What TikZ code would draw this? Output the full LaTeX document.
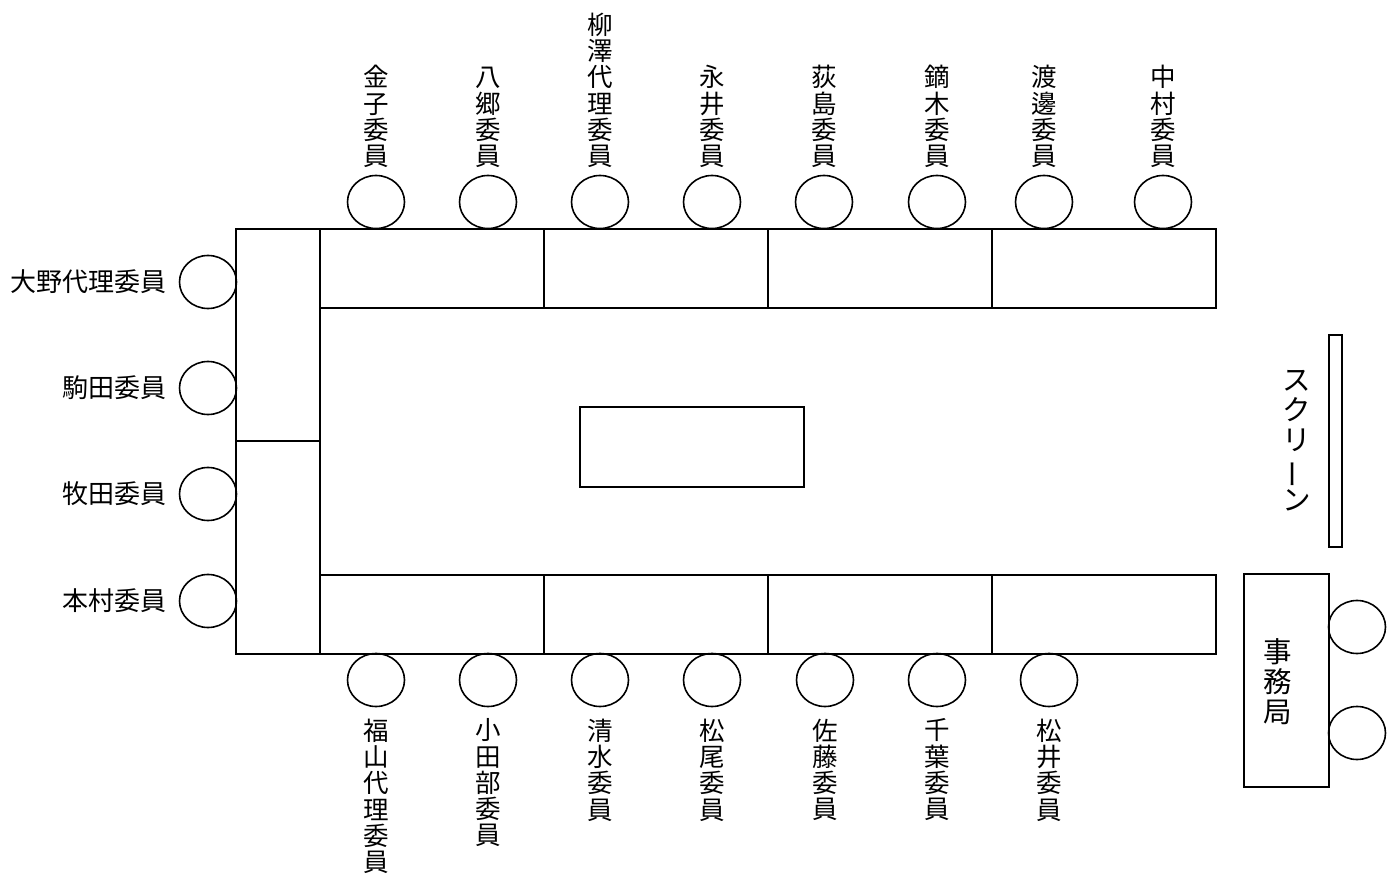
\documentclass[tikz,border=0pt]{standalone}
\usepackage{fontspec}
\setmainfont{Noto Sans CJK JP}
\usetikzlibrary{shapes.geometric}
\tikzset{
  tbl/.style={draw, line width=1.6pt},
  seat/.style={draw, ellipse, line width=1.6pt, minimum width=57pt, minimum height=53pt, inner sep=0pt},
  vlab/.style={font=\fontsize{25.5}{26.3}\selectfont, align=center, inner sep=0pt},
  hlab/.style={font=\fontsize{26}{26.3}\selectfont, inner sep=0pt, anchor=east},
  biglab/.style={font=\fontsize{28.5}{30}\selectfont, align=center, inner sep=0pt},
}
\begin{document}
\begin{tikzpicture}[x=1pt, y=-1pt]
\useasboundingbox (0,0) rectangle (1397,882);

% tables
\draw[tbl] (236,229) rectangle (320,654);
\draw[tbl] (236,441) -- (320,441);
\draw[tbl] (320,229) rectangle (1216,308);
\foreach \x in {544,768,992} \draw[tbl] (\x,229) -- (\x,308);
\draw[tbl] (320,575) rectangle (1216,654);
\foreach \x in {544,768,992} \draw[tbl] (\x,575) -- (\x,654);
\draw[tbl] (580,407) rectangle (804,487);
% screen
\draw[tbl] (1329,335) rectangle (1342,547);
\node[biglab] (scr) at (1297,441) {ス\\ク\\リ\\\rotatebox[origin=c]{90}{ー}\\ン};
% secretariat
\draw[tbl] (1244,574) rectangle (1329,787);
\node[biglab] (jim) at (1278,682) {事\\務\\局};
\node[seat] (s1) at (1357,627) {};
\node[seat] (s2) at (1357,733) {};

% top seats
\foreach \n/\x/\t in {1/376/{金\\子\\委\\員}, 2/488/{八\\郷\\委\\員}, 3/600/{柳\\澤\\代\\理\\委\\員}, 4/712/{永\\井\\委\\員}, 5/824/{荻\\島\\委\\員}, 6/937/{鏑\\木\\委\\員}, 7/1044/{渡\\邊\\委\\員}, 8/1163/{中\\村\\委\\員}}{
  \node[seat] (t\n) at (\x,202) {};
  \node[vlab, anchor=south] (lt\n) at (\x,168) {\t};
}
% bottom seats
\foreach \n/\x/\t in {1/376/{福\\山\\代\\理\\委\\員}, 2/488/{小\\田\\部\\委\\員}, 3/600/{清\\水\\委\\員}, 4/712/{松\\尾\\委\\員}, 5/825/{佐\\藤\\委\\員}, 6/937/{千\\葉\\委\\員}, 7/1049/{松\\井\\委\\員}}{
  \node[seat] (b\n) at (\x,680) {};
  \node[vlab, anchor=north] (lb\n) at (\x,718.5) {\t};
}
% left seats
\foreach \n/\y/\t in {1/282/大野代理委員, 2/388/駒田委員, 3/494/牧田委員, 4/601/本村委員}{
  \node[seat] (l\n) at (208,\y) {};
  \node[hlab] (ll\n) at (167,\y) {\t};
}
\end{tikzpicture}
\end{document}
